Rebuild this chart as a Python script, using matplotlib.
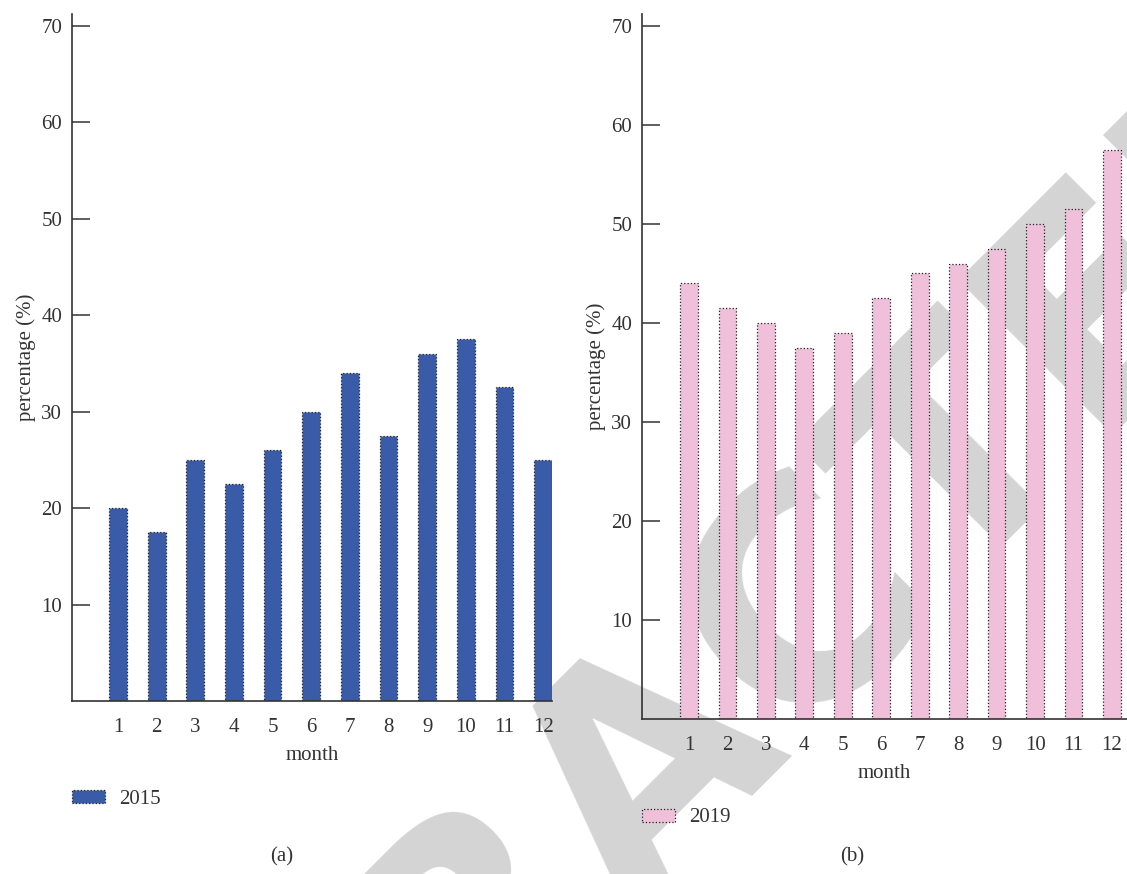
import matplotlib
matplotlib.use("Agg")
import matplotlib.pyplot as plt

plt.rcParams['font.family'] = ['Liberation Serif', 'DejaVu Serif']

months = list(range(1, 13))
month_labels = [str(m) for m in months]
pct_2015 = [20, 17.5, 25, 22.5, 26, 30, 34, 27.5, 36, 37.5, 32.5, 25]
pct_2019 = [44, 41.5, 40, 37.5, 39, 42.5, 45, 46, 47.5, 50, 51.5, 57.5]
yticks = [10, 20, 30, 40, 50, 60, 70]

W, H = 1127, 874
FS = 15


def box(l, t, r, b):
    # pixel box -> figure fraction [left, bottom, width, height]
    return [l / W, 1 - b / H, (r - l) / W, (b - t) / H]


fig = plt.figure(figsize=(W / 100, H / 100), dpi=100)

# watermark stamp behind both panels
fig.text(648 / W, 1 - 756 / H, "RETRACTED", fontsize=216, fontweight="bold",
         family="DejaVu Sans", color="#d4d4d4", rotation=45,
         rotation_mode="anchor", ha="center", va="center", zorder=-1)

panels = [
    (box(72, 14, 552, 701), pct_2015, "#3a5ca8", "2015", (-0.19, 12.23), 799, "(a)", 282),
    (box(642, 14, 1127, 719), pct_2019, "#f0c0da", "2019", (-0.22, 12.39), 818, "(b)", 852),
]

for rect, vals, color, year, xl, leg_y, cap, cap_x in panels:
    ax = fig.add_axes(rect)
    ax.set_facecolor("none")
    bars = ax.bar(months, vals, width=0.46, color=color, edgecolor="#222222",
                  linestyle=":", linewidth=0.9, label=year)
    ax.set_xlim(*xl)
    ax.set_ylim(0, 71.2)
    ax.set_xticks(months)
    ax.set_xticklabels(month_labels)
    ax.set_yticks(yticks)
    for s in ["top", "right"]:
        ax.spines[s].set_visible(False)
    for s in ["left", "bottom"]:
        ax.spines[s].set_color("#333333")
        ax.spines[s].set_linewidth(1.2)
    ax.tick_params(axis="y", direction="in", length=13, width=1.1,
                   color="#333333", pad=7, labelsize=FS, labelcolor="#333333")
    ax.tick_params(axis="x", length=0, pad=12, labelsize=FS, labelcolor="#333333")
    ax.set_xlabel("month", fontsize=FS, color="#333333", labelpad=7)
    ax.set_ylabel("percentage (%)", fontsize=FS, color="#333333", labelpad=4)
    ax.legend(handles=[bars], loc="center left",
              bbox_to_anchor=(rect[0], 1 - leg_y / H), bbox_transform=fig.transFigure,
              frameon=False, fontsize=FS, handlelength=1.6, handleheight=0.6,
              handletextpad=0.65, borderpad=0, borderaxespad=0, labelcolor="#333333")
    fig.text(cap_x / W, 1 - 857 / H, cap, fontsize=FS, color="#333333",
             ha="center", va="center")

fig.savefig("out.png", dpi=100)
